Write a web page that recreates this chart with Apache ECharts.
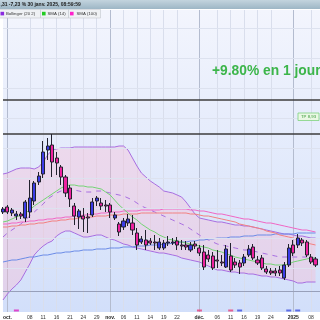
<!DOCTYPE html>
<html><head><meta charset="utf-8">
<script src="https://cdn.jsdelivr.net/npm/echarts@6/dist/echarts.min.js"></script>
<style>html,body{margin:0;padding:0;background:#fff;}#c{width:320px;height:320px;}</style>
</head><body><div id="c"></div>
<script>
const dates = ['2024-09-30','2024-10-01','2024-10-02','2024-10-03','2024-10-04','2024-10-07','2024-10-08','2024-10-09','2024-10-10','2024-10-11','2024-10-14','2024-10-15','2024-10-16','2024-10-17','2024-10-18','2024-10-21','2024-10-22','2024-10-23','2024-10-24','2024-10-25','2024-10-28','2024-10-29','2024-10-30','2024-10-31',
'2024-11-01','2024-11-04','2024-11-05','2024-11-06','2024-11-07','2024-11-08','2024-11-11','2024-11-12','2024-11-13','2024-11-14','2024-11-15','2024-11-18','2024-11-19','2024-11-20','2024-11-21','2024-11-22','2024-11-25','2024-11-26','2024-11-27','2024-11-29',
'2024-12-02','2024-12-03','2024-12-04','2024-12-05','2024-12-06','2024-12-09','2024-12-10','2024-12-11','2024-12-12','2024-12-13','2024-12-16','2024-12-17','2024-12-18','2024-12-19','2024-12-20','2024-12-23','2024-12-24','2024-12-26','2024-12-27','2024-12-30','2024-12-31',
'2025-01-02','2025-01-03','2025-01-06','2025-01-07','2025-01-08','2025-01-10','2025-01-13'];

const tickDates = ['2024-10-01','2024-10-08','2024-10-11','2024-10-16','2024-10-21','2024-10-24','2024-10-29','2024-11-01','2024-11-06','2024-11-11','2024-11-14','2024-11-19','2024-11-22','2024-12-02','2024-12-06','2024-12-11','2024-12-16','2024-12-19','2024-12-24','2025-01-02','2025-01-08'];
const tickTexts = ['oct.','08','11','16','21','24','29','nov.','06','11','14','19','22','déc.','06','11','16','19','24','2025','08'];
const monthStarts = ['2024-10-01','2024-11-01','2024-12-02','2025-01-02'];

// [open, close, low, high]
const candles = [
[7.88,7.91,7.86,7.93],[7.93,7.88,7.86,7.95],[7.87,7.90,7.84,7.92],[7.84,7.86,7.80,7.89],[7.86,7.84,7.81,7.88],
[7.82,7.98,7.78,8.00],[7.88,8.02,7.82,8.20],[7.99,8.17,7.95,8.19],[8.18,8.24,8.15,8.28],[8.26,8.48,8.22,8.59],
[8.50,8.54,8.40,8.62],[8.55,8.38,8.23,8.66],[8.42,8.37,8.25,8.48],[8.33,8.23,8.15,8.35],[8.23,8.07,8.03,8.25],
[8.12,8.01,7.93,8.15],[7.94,7.84,7.75,7.97],[7.83,7.89,7.71,7.91],[7.84,7.81,7.68,7.92],[7.83,7.82,7.67,7.87],
[7.85,7.98,7.83,8.02],[7.99,8.02,7.94,8.04],[7.97,7.94,7.90,8.02],[7.95,7.94,7.88,8.00],[7.95,7.88,7.82,7.97],
[7.82,7.85,7.80,7.88],[7.76,7.68,7.64,7.78],[7.73,7.79,7.70,7.82],[7.77,7.81,7.74,7.86],[7.77,7.70,7.65,7.85],
[7.67,7.55,7.50,7.72],[7.58,7.61,7.56,7.64],[7.60,7.55,7.50,7.70],[7.59,7.57,7.55,7.62],[7.58,7.57,7.50,7.65],
[7.52,7.58,7.50,7.62],[7.52,7.57,7.50,7.60],[7.57,7.58,7.54,7.64],[7.57,7.58,7.55,7.62],[7.59,7.55,7.50,7.63],
[7.55,7.54,7.50,7.60],[7.55,7.53,7.50,7.59],[7.50,7.55,7.48,7.58],[7.56,7.54,7.51,7.59],[7.52,7.47,7.44,7.55],
[7.48,7.33,7.30,7.55],[7.45,7.41,7.38,7.50],[7.44,7.32,7.30,7.48],[7.40,7.39,7.32,7.50],[7.38,7.37,7.34,7.45],
[7.33,7.51,7.32,7.55],[7.44,7.30,7.28,7.57],[7.38,7.35,7.32,7.42],[7.37,7.33,7.26,7.40],[7.37,7.43,7.34,7.46],
[7.45,7.51,7.43,7.55],[7.53,7.42,7.40,7.56],[7.40,7.37,7.35,7.44],[7.42,7.32,7.30,7.45],[7.31,7.28,7.26,7.34],
[7.29,7.27,7.25,7.32],[7.29,7.27,7.24,7.32],[7.30,7.27,7.24,7.34],[7.22,7.35,7.20,7.38],[7.35,7.52,7.33,7.56],
[7.55,7.47,7.44,7.60],[7.55,7.62,7.52,7.66],[7.60,7.57,7.54,7.62],[7.58,7.45,7.43,7.60],[7.43,7.38,7.36,7.46],
[7.41,7.35,7.33,7.43]
];

const bbUpper = [8.26,8.27,8.29,8.31,8.32,8.32,8.32,8.31,8.33,8.38,8.45,8.50,8.51,8.52,8.52,8.52,8.53,8.53,8.53,8.53,8.53,8.53,8.53,8.53,8.53,8.53,8.54,8.54,8.50,8.42,8.34,8.27,8.23,8.19,8.16,8.13,8.09,8.08,8.07,8.05,8.03,7.98,7.92,7.86,7.82,7.81,7.80,7.79,7.78,7.78,7.77,7.76,7.75,7.75,7.74,7.74,7.73,7.72,7.71,7.70,7.69,7.68,7.67,7.66,7.66,7.65,7.64,7.64,7.63,7.62,7.62];
const bbMiddle = [7.63,7.67,7.70,7.73,7.76,7.80,7.84,7.88,7.92,7.96,8.01,8.04,8.07,8.09,8.10,8.10,8.10,8.09,8.08,8.08,8.08,8.09,8.09,8.08,8.07,8.06,8.05,8.04,8.02,8.00,7.97,7.94,7.92,7.90,7.88,7.86,7.84,7.82,7.80,7.78,7.76,7.74,7.71,7.68,7.65,7.62,7.60,7.58,7.56,7.55,7.54,7.53,7.52,7.51,7.50,7.50,7.49,7.48,7.47,7.46,7.45,7.44,7.43,7.43,7.43,7.43,7.43,7.43,7.43,7.42,7.42];
const bbLower = [7.00,7.06,7.11,7.15,7.20,7.28,7.36,7.45,7.50,7.54,7.57,7.59,7.64,7.67,7.69,7.69,7.67,7.65,7.63,7.63,7.64,7.65,7.65,7.63,7.61,7.60,7.58,7.56,7.55,7.53,7.52,7.51,7.50,7.49,7.48,7.47,7.47,7.46,7.45,7.44,7.42,7.41,7.40,7.39,7.38,7.36,7.34,7.32,7.30,7.30,7.29,7.28,7.28,7.27,7.27,7.26,7.26,7.25,7.24,7.24,7.23,7.23,7.22,7.21,7.20,7.19,7.17,7.17,7.18,7.18,7.18];
const sma14 = [7.78,7.79,7.81,7.83,7.85,7.87,7.90,7.94,7.97,8.00,8.03,8.06,8.09,8.12,8.14,8.15,8.15,8.14,8.14,8.13,8.13,8.12,8.11,8.08,8.05,8.00,7.95,7.91,7.87,7.83,7.80,7.76,7.73,7.70,7.68,7.65,7.63,7.61,7.60,7.59,7.58,7.57,7.56,7.55,7.54,7.53,7.52,7.50,7.49,7.48,7.46,7.45,7.43,7.42,7.41,7.40,7.39,7.38,7.37,7.36,7.36,7.35,7.35,7.35,7.36,7.38,7.39,7.40,7.41,7.42,7.42];
const sma100 = [7.76,7.76,7.77,7.77,7.78,7.78,7.79,7.79,7.80,7.80,7.81,7.81,7.82,7.82,7.83,7.83,7.84,7.84,7.85,7.85,7.86,7.86,7.87,7.87,7.88,7.88,7.88,7.89,7.89,7.89,7.89,7.90,7.90,7.90,7.90,7.90,7.91,7.91,7.91,7.91,7.91,7.91,7.90,7.90,7.89,7.89,7.88,7.87,7.86,7.86,7.85,7.84,7.83,7.82,7.81,7.81,7.80,7.79,7.78,7.77,7.77,7.76,7.75,7.74,7.73,7.72,7.71,7.70,7.70,7.69,7.68];
const sma50 = [7.73,7.73,7.74,7.74,7.75,7.75,7.76,7.76,7.77,7.77,7.78,7.79,7.79,7.80,7.80,7.81,7.81,7.82,7.82,7.83,7.83,7.84,7.84,7.84,7.85,7.85,7.85,7.86,7.86,7.86,7.86,7.87,7.87,7.87,7.87,7.87,7.87,7.87,7.87,7.87,7.87,7.87,7.86,7.86,7.85,7.84,7.84,7.83,7.82,7.81,7.80,7.79,7.78,7.76,7.75,7.74,7.73,7.72,7.71,7.69,7.68,7.67,7.65,7.64,7.63,7.62,7.60,7.59,7.57,7.56,7.55];
const sma200 = [7.38,7.39,7.40,7.40,7.41,7.42,7.43,7.43,7.44,7.45,7.45,7.46,7.47,7.47,7.48,7.48,7.49,7.49,7.50,7.50,7.50,7.51,7.51,7.51,7.52,7.52,7.52,7.53,7.53,7.53,7.54,7.54,7.54,7.55,7.55,7.55,7.56,7.56,7.57,7.57,7.58,7.58,7.59,7.59,7.60,7.60,7.61,7.61,7.62,7.62,7.62,7.63,7.63,7.63,7.64,7.64,7.64,7.65,7.65,7.65,7.65,7.66,7.66,7.66,7.66,7.66,7.67,7.67,7.67,7.67,7.67];

const darkLevels = [9.00, 8.66];
const grayLevels = [7.09];
const gridLevels = [9.72, 9.42, 9.12, 8.82, 8.52, 8.22, 7.92, 7.62, 7.32];
const eventDates = ['2024-10-03','2024-12-02','2024-12-11','2024-12-13','2024-12-31','2025-01-03'];
const eventColors = ['#e020c0','#e8407a','#e8407a','#4050e0','#4050e0','#4050e0'];

const purple = '#a86ee0';
const chart = echarts.init(document.getElementById('c'), null, {renderer:'canvas'});
const fillDiff = bbUpper.map((u,i)=>+(u-bbLower[i]).toFixed(2));

const option = {
  animation:false,
  backgroundColor:'#ffffff',
  grid:{left:0.5,right:0,top:10,bottom:8,show:true,borderWidth:0,
    backgroundColor:new echarts.graphic.LinearGradient(0,0,0,1,[{offset:0,color:'#f3f5fd'},{offset:1,color:'#d2dffa'}])},
  xAxis:[{
    type:'category',data:dates,boundaryGap:false,
    axisLine:{show:false},axisTick:{show:false},
    axisLabel:{interval:(i,v)=>tickDates.includes(v),margin:3,fontSize:5,color:'#333',fontFamily:'Liberation Sans',
      formatter:(v)=>{const k=tickDates.indexOf(v);const t=tickTexts[k];return monthStarts.includes(v)?'{b|'+t+'}':t;},
      rich:{b:{fontWeight:'bold',fontSize:5,color:'#222',fontFamily:'Liberation Sans'}}},
    splitLine:{show:true,interval:(i,v)=>tickDates.includes(v)&&!monthStarts.includes(v),lineStyle:{color:'#d9deec',width:1}}
  },{
    type:'category',data:dates,boundaryGap:false,position:'bottom',
    axisLine:{show:false},axisTick:{show:false},axisLabel:{show:false},
    splitLine:{show:true,interval:(i,v)=>monthStarts.includes(v),lineStyle:{color:'#b4bccf',width:1}}
  }],
  yAxis:{type:'value',min:6.88,max:9.90,show:true,axisLine:{show:false},axisTick:{show:false},axisLabel:{show:false},splitLine:{show:false}},
  series:[
    {type:'line',name:'grid',data:[],symbol:'none',silent:true,z:1,
      markLine:{silent:true,symbol:'none',label:{show:false},lineStyle:{color:'#dde2ef',width:1,type:'solid'},data:gridLevels.map(v=>({yAxis:v}))}},
    {type:'line',name:'bbLower',data:bbLower,stack:'bb',symbol:'none',lineStyle:{color:purple,width:1},z:3},
    {type:'line',name:'bbFill',data:fillDiff,stack:'bb',symbol:'none',lineStyle:{width:0,opacity:0},areaStyle:{color:'rgba(255,180,205,0.45)'},z:2},
    {type:'line',name:'Bollinger (20 2)',data:bbUpper,symbol:'none',lineStyle:{color:purple,width:1},z:3},
    {type:'line',name:'bbMiddle',data:bbMiddle,symbol:'none',lineStyle:{color:purple,width:1,type:[5,5]},z:3},
    {type:'line',name:'SMA (200)',data:sma200,symbol:'none',lineStyle:{color:'#6b8be6',width:1},z:3},
    {type:'line',name:'SMA (50)',data:sma50,symbol:'none',lineStyle:{color:'#f28080',width:1},z:3},
    {type:'line',name:'SMA (100)',data:sma100,symbol:'none',lineStyle:{color:'#f066c4',width:1},z:3},
    {type:'line',name:'SMA (14)',data:sma14,symbol:'none',lineStyle:{color:'#74d474',width:1},z:3,
      markLine:{silent:true,symbol:'none',label:{show:false},data:[
        ...darkLevels.map(v=>({yAxis:v,lineStyle:{color:'#3c3c3c',width:1.5,type:'solid'}})),
        ...grayLevels.map(v=>({yAxis:v,lineStyle:{color:'#98a0ba',width:1,type:'solid'}}))]}},
    {type:'candlestick',name:'prix',data:candles,barWidth:3.6,z:5,
      itemStyle:{color:'#3c3ce6',color0:'#ee22a0',borderColor:'#22222e',borderColor0:'#22222e',borderWidth:1}},
    {type:'scatter',name:'events',symbol:'rect',symbolSize:[5,2],z:6,
      data:eventDates.map((d,i)=>({value:[d,6.895],itemStyle:{color:eventColors[i]}}))}
  ],
  graphic:[
    {type:'rect',shape:{x:0,y:0,width:320,height:9},style:{fill:new echarts.graphic.LinearGradient(0,0,0,1,[{offset:0,color:'#c3d4de'},{offset:1,color:'#9db6c5'}])},z:100},
    {type:'text',x:0.5,y:4.8,style:{text:',31 -7,23 % 30 janv. 2025, 08:59:59',font:'bold 5px "Liberation Sans"',fill:'#1c1c1c',verticalAlign:'middle'},z:101},
    {type:'rect',shape:{x:-1,y:9.5,width:41.5,height:8.5},style:{fill:'#eff1f4',stroke:'#c3c7cf',lineWidth:0.6},z:100},
    {type:'rect',shape:{x:0.5,y:11.8,width:3.6,height:3.6},style:{fill:'#8b2be0'},z:101},
    {type:'text',x:6,y:13.8,style:{text:'Bollinger (20 2)',font:'4.3px "Liberation Sans"',fill:'#333',verticalAlign:'middle'},z:101},
    {type:'rect',shape:{x:40.5,y:9.5,width:28,height:8.5},style:{fill:'#eff1f4',stroke:'#c3c7cf',lineWidth:0.6},z:100},
    {type:'rect',shape:{x:42,y:11.8,width:3.6,height:3.6},style:{fill:'#22cc22'},z:101},
    {type:'text',x:47.5,y:13.8,style:{text:'SMA (14)',font:'4.3px "Liberation Sans"',fill:'#333',verticalAlign:'middle'},z:101},
    {type:'rect',shape:{x:68.5,y:9.5,width:32,height:8.5},style:{fill:'#eff1f4',stroke:'#c3c7cf',lineWidth:0.6},z:100},
    {type:'rect',shape:{x:70,y:11.8,width:3.6,height:3.6},style:{fill:'#ff22cc'},z:101},
    {type:'text',x:76.5,y:13.8,style:{text:'SMA (100)',font:'4.3px "Liberation Sans"',fill:'#333',verticalAlign:'middle'},z:101},
    {type:'text',x:212,y:71,style:{text:'+9.80% en 1 jour',font:'bold 13.8px "Liberation Sans"',fill:'#3cb54a',verticalAlign:'middle'},z:101},
    {type:'rect',shape:{x:298,y:113,width:21,height:7.5},style:{fill:'#eaf8e4',stroke:'#7fd27f',lineWidth:0.8},z:100},
    {type:'text',x:308.5,y:116.9,style:{text:'TP 8,93',font:'4.3px "Liberation Sans"',fill:'#3a9a3a',align:'center',verticalAlign:'middle'},z:101}
  ]
};
chart.setOption(option);
</script></body></html>
